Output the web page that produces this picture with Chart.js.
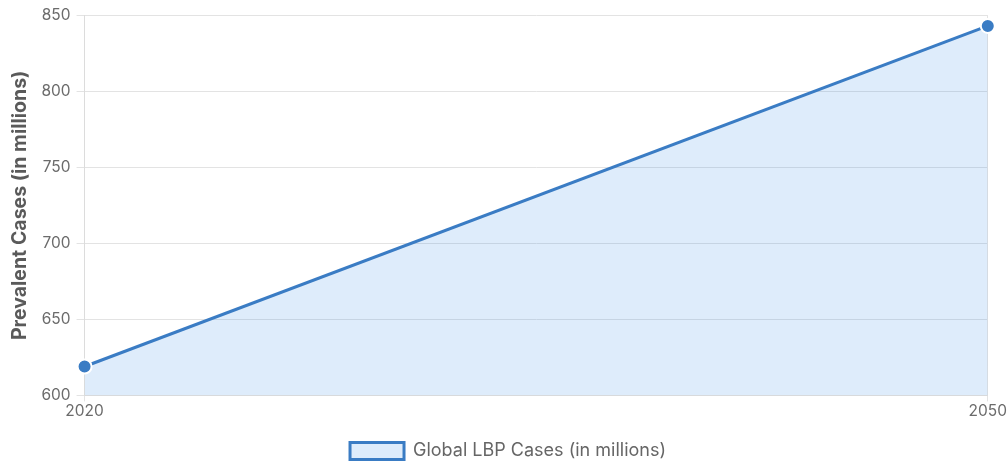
<!DOCTYPE html>
<html>
<head>
<meta charset="utf-8">
<script src="https://cdn.jsdelivr.net/npm/chart.js@4.4.1/dist/chart.umd.min.js"></script>
<style>
    html, body { margin: 0; padding: 0; background: #fff; }
    #wrap { width: 1008px; height: 464px; }
</style>
</head>
<body>
<div id="wrap"><canvas id="lbpChart"></canvas></div>
<script>
// projected prevalent low back pain cases, millions
const years = ['2020', '2050'];
const cases = [619, 843];
const yTicks = [600, 650, 700, 750, 800, 850];

const lineColor = '#3a7cc4';
const fillColor = 'rgba(59, 140, 230, 0.17)';

Chart.defaults.font.family = 'Inter, "Noto Sans", sans-serif';
Chart.defaults.color = '#6b6b6b';

const data = {
    labels: years,
    datasets: [
        {
            label: 'Global LBP Cases (in millions)',
            data: cases,
            borderColor: lineColor,
            backgroundColor: fillColor,
            borderWidth: 3,
            fill: true,
            tension: 0,
            pointRadius: 7,
            pointBackgroundColor: lineColor,
            pointBorderColor: '#ffffff',
            pointBorderWidth: 2
        }
    ]
};

const config = {
    type: 'line',
    data: data,
    options: {
        responsive: true,
        maintainAspectRatio: false,
        animation: false,
        layout: { padding: { top: 5, left: 8, right: 0, bottom: -6 } },
        scales: {
            x: {
                grid: { color: '#e3e3e3', tickLength: 6 },
                border: { color: '#dcdcdc' },
                ticks: { font: { size: 15.5 }, padding: 1, color: '#6b6b6b' }
            },
            y: {
                min: yTicks[0],
                max: yTicks[yTicks.length - 1],
                afterBuildTicks: (axis) => { axis.ticks = yTicks.map(v => ({ value: v })); },
                grid: { color: '#e3e3e3', tickLength: 8 },
                border: { color: '#dcdcdc' },
                ticks: { font: { size: 15.5 }, padding: 6, color: '#6b6b6b' },
                title: {
                    display: true,
                    text: 'Prevalent Cases (in millions)',
                    font: { size: 19.5, weight: 'bold' },
                    color: '#5a5a5a',
                    padding: { top: 0, bottom: 4 }
                }
            }
        },
        plugins: {
            legend: {
                position: 'bottom',
                labels: {
                    boxWidth: 54,
                    boxHeight: 17,
                    font: { size: 18 },
                    color: '#666666',
                    padding: 20
                }
            },
            tooltip: { enabled: false }
        }
    }
};

const lbpChart = new Chart(document.getElementById('lbpChart').getContext('2d'), config);
</script>
</body>
</html>
